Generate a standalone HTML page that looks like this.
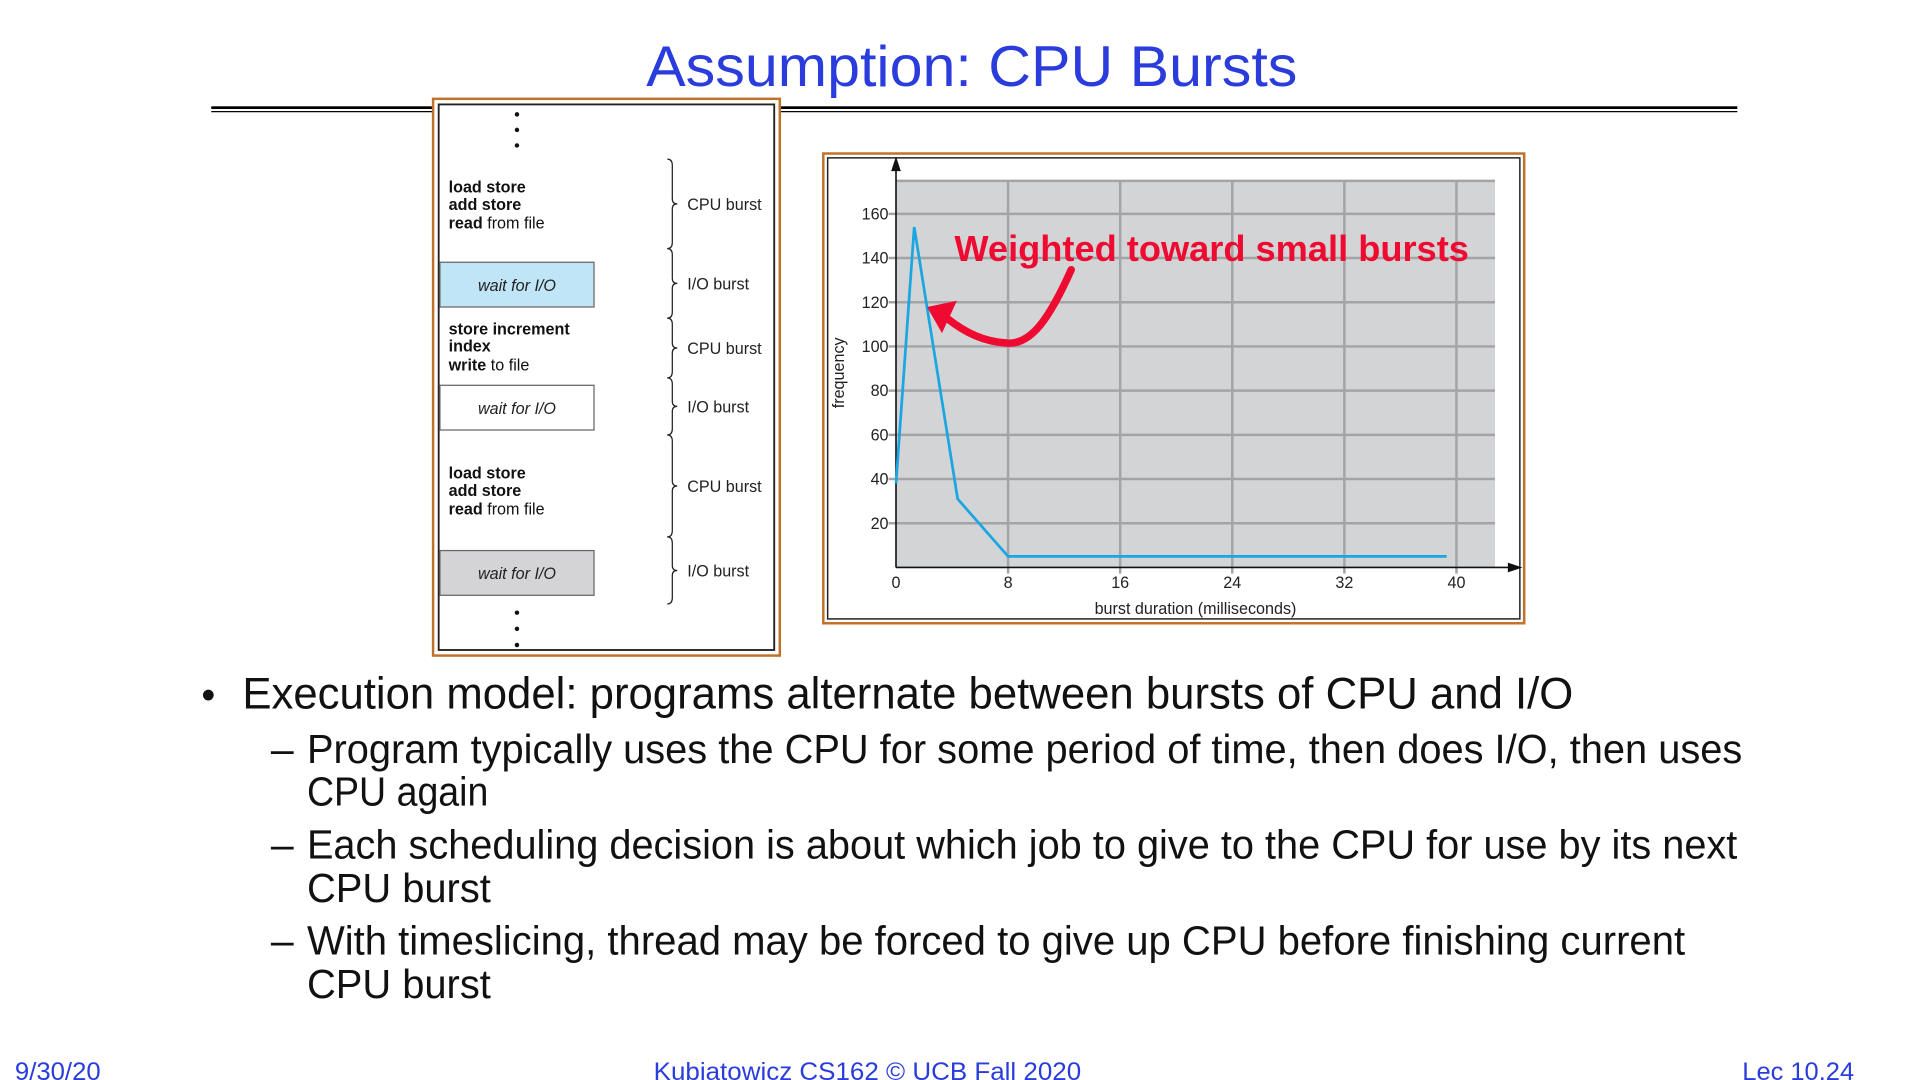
<!DOCTYPE html>
<html><head><meta charset="utf-8"><style>
html,body{margin:0;padding:0;background:#fff;width:1920px;height:1080px;overflow:hidden}
svg{display:block}
text{font-family:"Liberation Sans",sans-serif}
</style></head><body>
<svg id="slide" width="1920" height="1080" viewBox="0 0 1545 869" xmlns="http://www.w3.org/2000/svg">
<text x="782" y="69" text-anchor="middle" font-size="46" fill="#2a3ddc" textLength="524" lengthAdjust="spacingAndGlyphs">Assumption: CPU Bursts</text>
<g>
<rect x="170" y="85.5" width="1228" height="2.2" fill="#000"/>
<rect x="170" y="89.3" width="1228" height="1" fill="#000"/>
</g>

<g id="burst-diagram">
<rect x="348.5" y="79.5" width="279" height="448" fill="#fff" stroke="#c0712a" stroke-width="2"/>
<rect x="353" y="84" width="270" height="439" fill="none" stroke="#222" stroke-width="1.5"/>
<g fill="#111"><circle cx="416" cy="92" r="1.8"/><circle cx="416" cy="104.5" r="1.8"/><circle cx="416" cy="117" r="1.8"/></g>
<g fill="#111"><circle cx="416" cy="493" r="1.8"/><circle cx="416" cy="506" r="1.8"/><circle cx="416" cy="519" r="1.8"/></g>
<g font-size="13" fill="#111">
<text x="361" y="155"><tspan font-weight="bold">load store</tspan></text>
<text x="361" y="169"><tspan font-weight="bold">add store</tspan></text>
<text x="361" y="184"><tspan font-weight="bold">read</tspan> from file</text>
<text x="361" y="269"><tspan font-weight="bold">store increment</tspan></text>
<text x="361" y="283"><tspan font-weight="bold">index</tspan></text>
<text x="361" y="298"><tspan font-weight="bold">write</tspan> to file</text>
<text x="361" y="385"><tspan font-weight="bold">load store</tspan></text>
<text x="361" y="399"><tspan font-weight="bold">add store</tspan></text>
<text x="361" y="414"><tspan font-weight="bold">read</tspan> from file</text>
</g>
<g font-size="13" font-style="italic" fill="#222" text-anchor="middle">
<rect x="354" y="211" width="124" height="36" fill="#bfe5f7" stroke="#666"/>
<text x="416" y="234">wait for I/O</text>
<rect x="354" y="310" width="124" height="36" fill="#fff" stroke="#666"/>
<text x="416" y="333">wait for I/O</text>
<rect x="354" y="443" width="124" height="36" fill="#d4d4d6" stroke="#666"/>
<text x="416" y="466">wait for I/O</text>
</g>
<g id="braces" fill="none" stroke="#222" stroke-width="1"></g>
<g id="brace-labels" font-size="13" fill="#222"></g>
</g>

<g id="chart">
<rect x="662.5" y="123.5" width="564" height="378" fill="#fff" stroke="#c0712a" stroke-width="2"/>
<rect x="666" y="127" width="557" height="371" fill="none" stroke="#222" stroke-width="1.2"/>
<g id="plot"></g>
</g>

<g fill="#111">
<text x="162" y="570" font-size="32">•</text>
<text x="195" y="570" font-size="36" textLength="1071" lengthAdjust="spacingAndGlyphs">Execution model: programs alternate between bursts of CPU and I/O</text>
<g font-size="33">
<text x="218" y="614">–</text>
<text x="247" y="614" textLength="1155" lengthAdjust="spacingAndGlyphs">Program typically uses the CPU for some period of time, then does I/O, then uses</text>
<text x="247" y="648" textLength="146" lengthAdjust="spacingAndGlyphs">CPU again</text>
<text x="218" y="691">–</text>
<text x="247" y="691" textLength="1151" lengthAdjust="spacingAndGlyphs">Each scheduling decision is about which job to give to the CPU for use by its next</text>
<text x="247" y="726" textLength="148" lengthAdjust="spacingAndGlyphs">CPU burst</text>
<text x="218" y="768">–</text>
<text x="247" y="768" textLength="1109" lengthAdjust="spacingAndGlyphs">With timeslicing, thread may be forced to give up CPU before finishing current</text>
<text x="247" y="803" textLength="148" lengthAdjust="spacingAndGlyphs">CPU burst</text>
</g>
</g>

<g fill="#2a3ddc" font-size="20">
<text x="12" y="869" textLength="69" lengthAdjust="spacingAndGlyphs">9/30/20</text>
<text x="698" y="869" text-anchor="middle" textLength="344" lengthAdjust="spacingAndGlyphs">Kubiatowicz CS162 © UCB Fall 2020</text>
<text x="1492" y="869" text-anchor="end" textLength="90" lengthAdjust="spacingAndGlyphs">Lec 10.24</text>
</g>
</svg>
<script>
// chart data
const burstMs = [0, 1.3, 4.4, 8, 39.3];
const frequency = [38, 154, 31, 5, 5];
const xTicks = [0, 8, 16, 24, 32, 40];
const yTicks = [20, 40, 60, 80, 100, 120, 140, 160];

const NS = "http://www.w3.org/2000/svg";
const X0 = 721, XPU = (1172 - 721) / 40;
const Y0 = 456.6, YPU = (421 - 172) / 140;
function sx(v){ return X0 + v * XPU; }
function sy(v){ return Y0 - v * YPU; }
function mk(tag, attrs, parent){
  const e = document.createElementNS(NS, tag);
  for (const k in attrs) e.setAttribute(k, attrs[k]);
  parent.appendChild(e);
  return e;
}
const plotG = document.getElementById('plot');
const bgRect = mk('rect', {x: sx(0), y: 145, width: 1203 - sx(0), height: Y0 - 145, fill: '#d3d4d6'}, plotG);


const gridTop = mk('line', {x1: sx(0), x2: 1203, y1: 145.5, y2: 145.5, stroke: '#a4a4a6', 'stroke-width': 2}, plotG);


yTicks.forEach(t => {
  const g = mk('line', {x1: sx(0) - 6, x2: 1203, y1: sy(t), y2: sy(t), stroke: '#a4a4a6', 'stroke-width': 2}, plotG);
  
  
  const tl = mk('text', {x: 715, y: sy(t) + 4.5, 'text-anchor': 'end', 'font-size': 13, fill: '#222'}, plotG);
  tl.textContent = t;
  
  
});
xTicks.forEach(t => {
  if (t > 0) {
    const g = mk('line', {x1: sx(t), x2: sx(t), y1: 145, y2: Y0 + 5, stroke: '#a4a4a6', 'stroke-width': 2}, plotG);
    
    
  }
  const tl = mk('text', {x: sx(t), y: 473, 'text-anchor': 'middle', 'font-size': 13, fill: '#222'}, plotG);
  tl.textContent = t;
  
  
});
const yAxis = mk('path', {d: `M${sx(0)},${Y0} V130 M${sx(0)-3},137 L${sx(0)},128 L${sx(0)+3},137 Z`, stroke: '#111', 'stroke-width': 1.3, fill: '#111'}, plotG);


const xAxis = mk('path', {d: `M${sx(0)},${Y0} H1220 M1214,${Y0-3} L1223,${Y0} L1214,${Y0+3} Z`, stroke: '#111', 'stroke-width': 1.3, fill: '#111'}, plotG);


const yLab = mk('text', {x: 0, y: 0, transform: 'translate(679,300) rotate(-90)', 'text-anchor': 'middle', 'font-size': 13, fill: '#222'}, plotG);
yLab.textContent = 'frequency';


const xLab = mk('text', {x: 962, y: 494, 'text-anchor': 'middle', 'font-size': 13, fill: '#222'}, plotG);
xLab.textContent = 'burst duration (milliseconds)';


const linePts = burstMs.map((b, i) => sx(b) + ',' + sy(frequency[i])).join(' ');
const seriesLine = mk('polyline', {points: linePts, fill: 'none', stroke: '#1aa6e0', 'stroke-width': 2.2, 'stroke-linejoin': 'miter'}, plotG);


const annArrow = mk('path', {d: 'M862,217 C845,255 830,278 810,276 C792,275 777,268 762,256', fill: 'none', stroke: '#ee0a30', 'stroke-width': 6, 'stroke-linecap': 'round'}, plotG);


const annHead = mk('polygon', {points: '746,247 770,242 758,268', fill: '#ee0a30'}, plotG);


const annText = mk('text', {x: 768, y: 210, 'font-size': 29, 'font-weight': 'bold', fill: '#ee0a30', textLength: 414, lengthAdjust: 'spacingAndGlyphs'}, plotG);
annText.textContent = 'Weighted toward small bursts';



// braces in diagram
const braceSpans = [[128,200],[200,256],[256,304],[304,350],[350,432],[432,486]];
const braceLabels = ['CPU burst','I/O burst','CPU burst','I/O burst','CPU burst','I/O burst'];
const braceG = document.getElementById('braces'), braceLabelG = document.getElementById('brace-labels');
braceSpans.forEach((s, i) => {
  const m = (s[0] + s[1]) / 2;
  const d = `M537,${s[0]} Q541,${s[0]} 541,${s[0]+5} V${m-4} Q541,${m} 545,${m} Q541,${m} 541,${m+4} V${s[1]-5} Q541,${s[1]} 537,${s[1]}`;
  const p = mk('path', {d: d}, braceG);
  
  
  const t = mk('text', {x: 553, y: m + 5}, braceLabelG);
  t.textContent = braceLabels[i];
  
  
});
</script>
</body></html>
